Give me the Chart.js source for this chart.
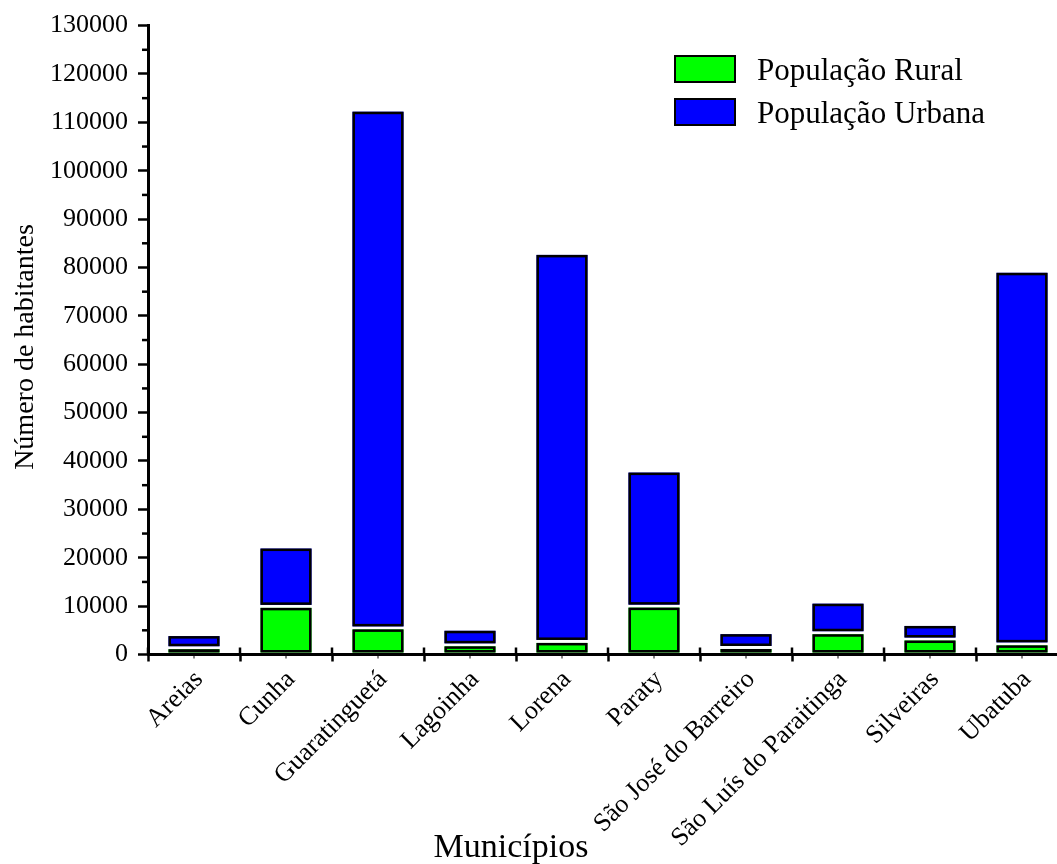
<!DOCTYPE html>
<html lang="pt">
<head>
<meta charset="utf-8">
<title>População rural e urbana por município</title>
<script src="https://cdn.jsdelivr.net/npm/chart.js@4.4.1/dist/chart.umd.min.js"></script>
<style>
  html, body { margin: 0; padding: 0; background: #fff; overflow: hidden; }
  #wrap { width: 1080px; height: 864px; }
</style>
</head>
<body>
<div id="wrap"><canvas id="grafico" width="1080" height="864"></canvas></div>
<script>
// Municípios e populações (habitantes)
const municipios = ['Areias', 'Cunha', 'Guaratinguetá', 'Lagoinha', 'Lorena', 'Paraty',
  'São José do Barreiro', 'São Luís do Paraitinga', 'Silveiras', 'Ubatuba'];
const populacaoRural = [1400, 9950, 5500, 2000, 2700, 10000, 1450, 4500, 3200, 2200];
const populacaoUrbana = [2400, 11950, 106700, 2900, 79900, 27600, 2750, 6000, 2700, 76700];

// Eixo Y: limites e passo das marcas principais / secundárias
const yMin = 0;
const yMax = 130000;
const yStep = 10000;
const yMinorStep = 5000;

const serif = '"Liberation Serif", "Times New Roman", serif';

// Desenha cada segmento da pilha com um pequeno vão branco entre eles
const barrasComVao = {
  id: 'barrasComVao',
  beforeDatasetDraw(chart, args) {
    const ctx = chart.ctx;
    const ds = chart.data.datasets[args.index];
    const ultimo = args.index === chart.data.datasets.length - 1;
    const gap = 1.5, lw = 2.5;
    ctx.save();
    args.meta.data.forEach(el => {
      const p = el.getProps(['x', 'y', 'base', 'width'], true);
      const l = p.x - p.width / 2, r = p.x + p.width / 2;
      const t = Math.min(p.y, p.base) + (ultimo ? 0 : gap);
      const b = Math.max(p.y, p.base) - gap;
      if (b - t <= 0) return;
      ctx.fillStyle = ds.backgroundColor;
      ctx.fillRect(l, t, r - l, b - t);
      ctx.lineWidth = lw;
      ctx.strokeStyle = '#000';
      ctx.strokeRect(l + lw / 2, t + lw / 2, r - l - lw, b - t - lw);
    });
    ctx.restore();
    return false;
  }
};

// Marcas secundárias, legenda e títulos dos eixos
const decoracao = {
  id: 'decoracao',
  afterDraw(chart) {
    const ctx = chart.ctx;
    const xs = chart.scales.x, ys = chart.scales.y;
    const area = chart.chartArea;
    ctx.save();
    ctx.strokeStyle = '#000';

    // marcas secundárias do eixo Y
    ctx.lineWidth = 2.5;
    for (let v = yMin + yMinorStep; v < yMax; v += yStep) {
      const py = ys.getPixelForValue(v);
      ctx.beginPath();
      ctx.moveTo(area.left - 6, py);
      ctx.lineTo(area.left, py);
      ctx.stroke();
    }

    // marcas do eixo X: parte interna nas divisões e marcas menores no centro
    const n = municipios.length;
    for (let i = 0; i <= n; i++) {
      const px = xs.getPixelForValue(i - 0.5);
      ctx.lineWidth = 2.5;
      ctx.beginPath();
      ctx.moveTo(px, area.bottom - 7);
      ctx.lineTo(px, area.bottom);
      ctx.stroke();
    }
    ctx.lineWidth = 1;
    for (let i = 0; i < n; i++) {
      const px = xs.getPixelForValue(i);
      ctx.beginPath();
      ctx.moveTo(px, area.bottom);
      ctx.lineTo(px, area.bottom + 4);
      ctx.stroke();
    }

    // legenda
    ctx.font = '31px ' + serif;
    ctx.textBaseline = 'middle';
    ctx.textAlign = 'left';
    chart.data.datasets.forEach((ds, i) => {
      const bx = 674, by = 55 + i * 43, bw = 62, bh = 28;
      ctx.fillStyle = ds.backgroundColor;
      ctx.fillRect(bx, by, bw, bh);
      ctx.lineWidth = 2;
      ctx.strokeStyle = '#000';
      ctx.strokeRect(bx + 1, by + 1, bw - 2, bh - 2);
      ctx.fillStyle = '#000';
      ctx.fillText(ds.label, 757, by + bh / 2 + 3);
    });

    // título do eixo X
    ctx.font = '34px ' + serif;
    ctx.textAlign = 'center';
    ctx.textBaseline = 'alphabetic';
    ctx.fillStyle = '#000';
    ctx.fillText('Municípios', 511, 857);

    // título do eixo Y
    ctx.save();
    ctx.translate(26, 347);
    ctx.rotate(-Math.PI / 2);
    ctx.font = '28px ' + serif;
    ctx.textAlign = 'center';
    ctx.textBaseline = 'middle';
    ctx.fillText('Número de habitantes', 0, 0);
    ctx.restore();

    ctx.restore();
  }
};

new Chart(document.getElementById('grafico'), {
  type: 'bar',
  data: {
    labels: municipios,
    datasets: [
      { label: 'População Rural', data: populacaoRural, backgroundColor: '#00ff00' },
      { label: 'População Urbana', data: populacaoUrbana, backgroundColor: '#0000ff' }
    ]
  },
  options: {
    responsive: false,
    animation: false,
    devicePixelRatio: 1,
    layout: { padding: { top: 24, right: 12, bottom: 0, left: 0 } },
    datasets: { bar: { barPercentage: 0.555, categoryPercentage: 1 } },
    plugins: { legend: { display: false }, tooltip: { enabled: false } },
    scales: {
      x: {
        stacked: true,
        offset: true,
        grid: { display: true, drawOnChartArea: false, offset: true, tickLength: 7, tickWidth: 2.5, tickColor: '#000' },
        border: { display: true, color: '#000', width: 3 },
        ticks: {
          color: '#000', font: { family: serif, size: 26 },
          maxRotation: 45, minRotation: 45, padding: 3, autoSkip: false, labelOffset: 5
        },
        afterFit(scale) { scale.height = 864 - 654.5; }
      },
      y: {
        stacked: true,
        min: yMin, max: yMax,
        grid: { display: true, drawOnChartArea: false, tickLength: 10, tickWidth: 2.5, tickColor: '#000' },
        border: { display: true, color: '#000', width: 3 },
        ticks: {
          stepSize: yStep, color: '#000', font: { family: serif, size: 26 }, padding: 10,
          callback: v => String(v)
        },
        afterFit(scale) { scale.width = 148; }
      }
    }
  },
  plugins: [barrasComVao, decoracao]
});
</script>
</body>
</html>
